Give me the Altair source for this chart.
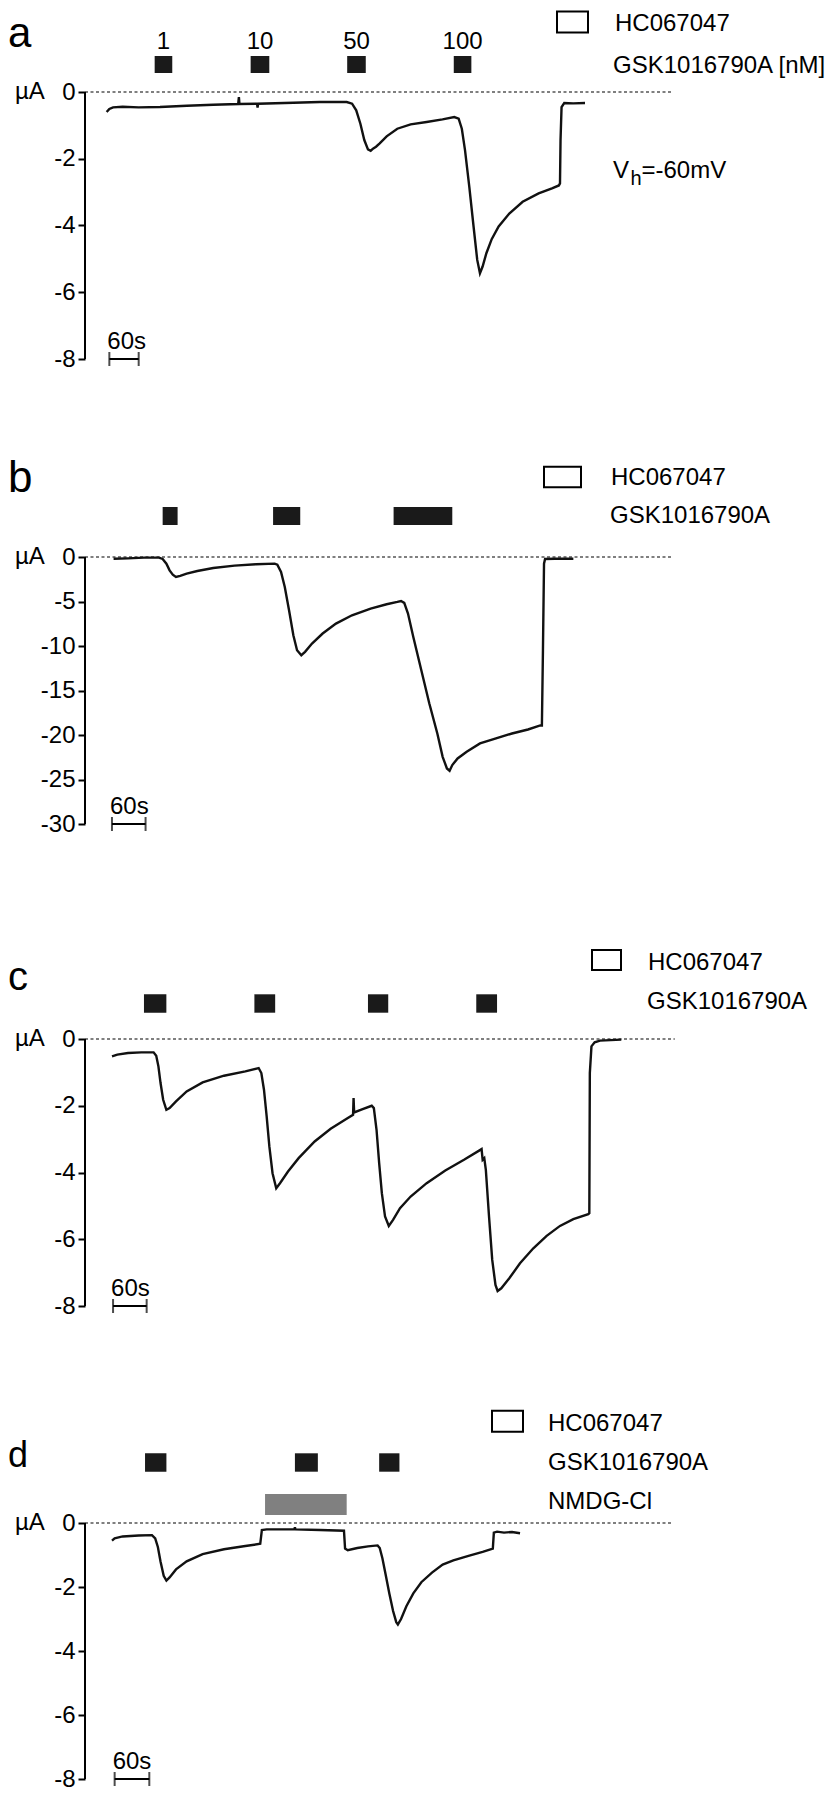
import altair as alt
import pandas as pd

FONT = "Liberation Sans"
FS = 24
W = 743

# ---------------- data (time in s, current in µA) ----------------
a_time = [0, 5.5, 13.1, 32.7, 65.5, 109, 164, 218, 269, 270.5, 271.6, 307.6, 308.7, 309.8, 382,
          436, 491, 502, 510.5, 519, 527, 534.5, 540, 545.5, 551, 558.5, 572.7, 594.5, 621.8,
          654.5, 687, 711, 720, 726.5, 733, 741.8, 750.5, 758, 763.6, 769, 776.7, 787.6, 801.8,
          823.6, 850.9, 883.6, 910.9, 925, 927.3, 928.4, 930.5, 936, 954.5, 978.5]
a_curr = [-0.60, -0.51, -0.46, -0.44, -0.46, -0.45, -0.41, -0.38, -0.36, -0.15, -0.36, -0.35,
          -0.47, -0.35, -0.32, -0.30, -0.30, -0.35, -0.55, -0.95, -1.44, -1.72, -1.76, -1.69,
          -1.64, -1.54, -1.33, -1.10, -0.97, -0.90, -0.82, -0.75, -0.80, -1.10, -1.74, -2.84,
          -4.03, -5.03, -5.43, -5.23, -4.83, -4.41, -4.03, -3.64, -3.29, -3.04, -2.89, -2.80,
          -2.74, -1.44, -0.45, -0.33, -0.34, -0.33]
a_drug_start = [98.2, 294.5, 492.0, 710.0]
a_drug_end = [134.2, 332.7, 530.0, 746.0]
a_conc = ["1", "10", "50", "100"]
a_ticks = [0, -2, -4, -6, -8]

b_time = [0, 25.7, 54.3, 81, 87.6, 94.3, 100, 105.7, 111.4, 119, 130.5, 149.5, 178, 216, 254.3,
          287.6, 292.4, 299, 305.7, 313.3, 321, 327.6, 335.2, 341.9, 354.3, 373.3, 397.1, 425.7,
          459, 487.6, 506.7, 513.3, 519, 525.7, 535.2, 549.5, 563.8, 578.1, 587.6, 595.2, 600,
          604.8, 614.3, 630.5, 654.3, 682.9, 711.4, 740, 761.9, 764.8, 766.7, 768.6, 770.5,
          787.6, 821]
b_curr = [-0.19, -0.15, -0.07, -0.07, -0.22, -0.75, -1.50, -1.98, -2.24, -2.13, -1.87, -1.57,
          -1.23, -0.97, -0.82, -0.75, -0.86, -1.68, -3.37, -5.99, -8.79, -10.47, -11.04, -10.66,
          -9.73, -8.60, -7.48, -6.55, -5.80, -5.31, -5.05, -4.94, -5.16, -6.36, -8.98, -12.72,
          -16.46, -19.83, -22.45, -23.76, -24.02, -23.38, -22.63, -21.89, -20.95, -20.39,
          -19.83, -19.38, -18.93, -18.93, -10.47, -0.75, -0.22, -0.19, -0.19]
b_drug_start = [87.6, 284.8, 500.0]
b_drug_end = [114.3, 333.3, 604.8]
b_ticks = [0, -5, -10, -15, -20, -25, -30]

c_time = [0, 9.5, 28.6, 52.4, 74.3, 79, 82.9, 86.7, 91.4, 97.1, 102.9, 114.3, 133.3, 161.9, 200,
          238.1, 261.9, 266.7, 271.4, 276.2, 281, 286.7, 293.3, 300, 314.3, 333.3, 361.9, 390.5,
          419, 430.5, 431.4, 432.4, 447.6, 463.8, 467.6, 472.4, 477.1, 481.9, 487.6, 494.3,
          501.9, 514.3, 533.3, 561.9, 595.2, 628.6, 660, 661.9, 664.8, 667.6, 673.3, 679, 684.8,
          688.6, 695.2, 709.5, 728.6, 752.4, 776.2, 800, 823.8, 850.5, 852.4, 853.3, 856.2,
          861.9, 871.4, 909.5]
c_curr = [-0.52, -0.47, -0.42, -0.40, -0.40, -0.50, -0.82, -1.32, -1.82, -2.12, -2.07, -1.87,
          -1.57, -1.30, -1.10, -0.97, -0.87, -1.02, -1.52, -2.32, -3.22, -4.02, -4.47, -4.32,
          -3.97, -3.57, -3.07, -2.69, -2.39, -2.27, -1.77, -2.20, -2.10, -2.00, -2.07, -2.72,
          -3.72, -4.62, -5.32, -5.60, -5.42, -5.07, -4.72, -4.32, -3.94, -3.62, -3.30, -3.62,
          -3.57, -3.92, -5.32, -6.62, -7.37, -7.55, -7.47, -7.17, -6.72, -6.27, -5.90, -5.60,
          -5.40, -5.25, -5.22, -1.02, -0.22, -0.10, -0.05, -0.02]
c_drug_start = [57.1, 254.3, 457.1, 650.5]
c_drug_end = [97.1, 291.4, 493.3, 687.6]
c_ticks = [0, -2, -4, -6, -8]

d_time = [0, 4.6, 18.5, 46.2, 69.2, 74.8, 79.4, 84, 89.5, 94.2, 99.7, 110.8, 129.2, 156.9, 193.8,
          230.8, 256.6, 259.4, 267.7, 315.7, 316.6, 317.5, 360, 401.5, 403.4, 408, 424.6, 443.1,
          459.7, 463.4, 468, 473.5, 480, 486.5, 492, 494.8, 500.3, 509.5, 521.5, 535.4, 553.8,
          572.3, 590.8, 618.5, 641.5, 659.1, 660.9, 666.5, 678.5, 692.3, 706.2]
d_curr = [-0.55, -0.48, -0.42, -0.39, -0.38, -0.48, -0.75, -1.20, -1.65, -1.80, -1.70, -1.45,
          -1.20, -0.97, -0.82, -0.72, -0.65, -0.22, -0.20, -0.20, -0.13, -0.20, -0.22, -0.24,
          -0.80, -0.85, -0.78, -0.73, -0.70, -0.78, -1.10, -1.60, -2.20, -2.75, -3.10, -3.17,
          -3.00, -2.60, -2.20, -1.85, -1.55, -1.30, -1.17, -1.02, -0.90, -0.80, -0.30, -0.27,
          -0.30, -0.28, -0.32]
d_drug_start = [57.2, 316.6, 462.4]
d_drug_end = [94.2, 356.3, 497.5]
d_nmdg_start = [264.9]
d_nmdg_end = [406.2]
d_ticks = [0, -2, -4, -6, -8]

SCALE_BAR_S = 60


def text_layer(label, x, y, size=FS, baseline="middle", align="left"):
    return alt.Chart(pd.DataFrame({"label": [label]})).mark_text(
        font=FONT, fontSize=size, color="black", align=align, baseline=baseline
    ).encode(x=alt.value(x), y=alt.value(y), text="label:N")


def panel(letter, letter_size, letter_y, letter_base, H, xdom, ydom, ticks, t, v,
          zero_end, sb_start, d_start, d_end, bar_y, square, legend, extra=None):
    xs = alt.Scale(domain=xdom, nice=False, zero=False)
    ys = alt.Scale(domain=ydom, nice=False, zero=False)
    yaxis = alt.Axis(values=ticks, domain=False, grid=False, ticks=True, tickSize=7,
                     tickWidth=2, tickColor="black", labelFont=FONT, labelFontSize=FS,
                     labelColor="black", labelPadding=3, labelOverlap=False,
                     labelFlush=False, title=None,
                     labelExpr="(datum.value < 0 ? '-' : '') + abs(datum.value)")

    def X(f):
        return alt.X(f, scale=xs, axis=None)

    def Y(f):
        return alt.Y(f, scale=ys, axis=yaxis)

    layers = []
    zero_df = pd.DataFrame({"x0": [xdom[0]], "x1": [zero_end], "y": [0]})
    layers.append(alt.Chart(zero_df).mark_rule(color="#555", strokeWidth=1.3,
                                               strokeDash=[3, 2.5]).encode(
        x=X("x0:Q"), x2="x1:Q", y=Y("y:Q")))
    ax_df = pd.DataFrame({"x": [xdom[0]], "y0": [0], "y1": [ticks[-1]]})
    layers.append(alt.Chart(ax_df).mark_rule(color="black", strokeWidth=2).encode(
        x=X("x:Q"), y=Y("y0:Q"), y2="y1:Q"))
    tr = pd.DataFrame({"t": t, "v": v, "i": list(range(len(t)))})
    layers.append(alt.Chart(tr).mark_line(color="#111", strokeWidth=2.4).encode(
        x=X("t:Q"), y=Y("v:Q"), order="i:Q"))
    bars = pd.DataFrame({"s": d_start, "e": d_end})
    layers.append(alt.Chart(bars).mark_rect(color="#1a1a1a").encode(
        x=X("s:Q"), x2="e:Q", y=alt.value(bar_y[0]), y2=alt.value(bar_y[1])))
    # scale bar
    ymin = ticks[-1]
    sb = pd.DataFrame({"s": [sb_start], "e": [sb_start + SCALE_BAR_S], "y": [ymin],
                       "lab": ["%ds" % SCALE_BAR_S]})
    layers.append(alt.Chart(sb).mark_rule(color="black", strokeWidth=2).encode(
        x=X("s:Q"), x2="e:Q", y=Y("y:Q")))
    caps = pd.DataFrame({"x": [sb_start, sb_start + SCALE_BAR_S], "y": [ymin, ymin]})
    layers.append(alt.Chart(caps).mark_tick(orient="vertical", size=14, thickness=2,
                                            color="black").encode(x=X("x:Q"), y=Y("y:Q")))
    layers.append(alt.Chart(sb).mark_text(font=FONT, fontSize=FS, color="black", align="left",
                                          baseline="alphabetic", dx=-2, dy=-10).encode(
        x=X("s:Q"), y=Y("y:Q"), text="lab:N"))
    # µA label
    ua = pd.DataFrame({"y": [0], "lab": ["µA"]})
    layers.append(alt.Chart(ua).mark_text(font=FONT, fontSize=FS, color="black", align="left",
                                          baseline="middle").encode(
        x=alt.value(-70), y=Y("y:Q"), text="lab:N"))
    # panel letter
    layers.append(text_layer(letter, -77, letter_y, size=letter_size, baseline=letter_base))
    # legend square
    sq = pd.DataFrame({"k": [0]})
    layers.append(alt.Chart(sq).mark_rect(fill="white", stroke="black", strokeWidth=2).encode(
        x=alt.value(square[0]), x2=alt.value(square[1]),
        y=alt.value(square[2]), y2=alt.value(square[3])))
    for item in legend:
        lab, lx, ly = item[:3]
        base = item[3] if len(item) > 3 else "middle"
        layers.append(text_layer(lab, lx, ly, baseline=base))
    if extra:
        layers.extend(extra(X, Y))
    return alt.layer(*layers).properties(width=W, height=H)


# ---------- panel a ----------
def extra_a(X, Y):
    cdf = pd.DataFrame({"c": [(s + e) / 2 for s, e in zip(a_drug_start, a_drug_end)],
                        "lab": a_conc})
    out = [alt.Chart(cdf).mark_text(font=FONT, fontSize=FS, color="black", align="center",
                                    baseline="alphabetic").encode(
        x=X("c:Q"), y=alt.value(41), text="lab:N")]
    out.append(text_layer("V", 528, 170, baseline="alphabetic"))
    out.append(text_layer("h", 545.5, 177, size=20, baseline="alphabetic"))
    out.append(text_layer("=-60mV", 556.5, 170, baseline="alphabetic"))
    return out


pa = panel("a", 42, 38.5, "alphabetic", 432, [-44.3, 1475.5],
           [-(432 - 84) / 33.375, 84 / 33.375],
           a_ticks, a_time, a_curr, 1158, 5.5, a_drug_start, a_drug_end, (48, 65),
           (472, 503, 3.5, 24.5),
           [("HC067047", 530, 22.5, "alphabetic"), ("GSK1016790A [nM]", 528, 58)], extra_a)

pb = panel("b", 44, 52, "alphabetic", 480, [-51.05, 1275.7], [-(480 - 117) / 8.9, 117 / 8.9],
           b_ticks, b_time, b_curr, 999, -2.9, b_drug_start, b_drug_end, (67, 85),
           (459, 496, 26.7, 47.3),
           [("HC067047", 526, 37.5), ("GSK1016790A", 525, 75.5)])

pc = panel("c", 40, 70, "alphabetic", 475, [-48.2, 1278.6], [-(475 - 119) / 33.375, 119 / 33.375],
           c_ticks, c_time, c_curr, 1005, 1.9, c_drug_start, c_drug_end, (74.3, 92.7),
           (507, 536, 30, 50),
           [("HC067047", 563, 42.5), ("GSK1016790A", 562, 82)])


def extra_d(X, Y):
    g = pd.DataFrame({"s": d_nmdg_start, "e": d_nmdg_end})
    return [alt.Chart(g).mark_rect(color="#808080").encode(
        x=X("s:Q"), x2="e:Q", y=alt.value(99), y2=alt.value(120))]


pd_ = panel("d", 36, 72, "alphabetic", 395, [-46.7, 1239.2],
            [-(395 - 128) / 32.0, 128 / 32.0],
            d_ticks, d_time, d_curr, 971, 4.6, d_drug_start, d_drug_end, (58.3, 76.7),
            (407, 438, 15.7, 36.7),
            [("HC067047", 463, 29), ("GSK1016790A", 463, 68), ("NMDG-Cl", 463, 107)],
            extra_d)

chart = alt.vconcat(pa, pb, pc, pd_, spacing=0, bounds="flush").properties(
    padding=0
).configure(font=FONT).configure_view(stroke=None, strokeWidth=0)

chart.save("out.html", embed_options={"renderer": "svg", "actions": False})
